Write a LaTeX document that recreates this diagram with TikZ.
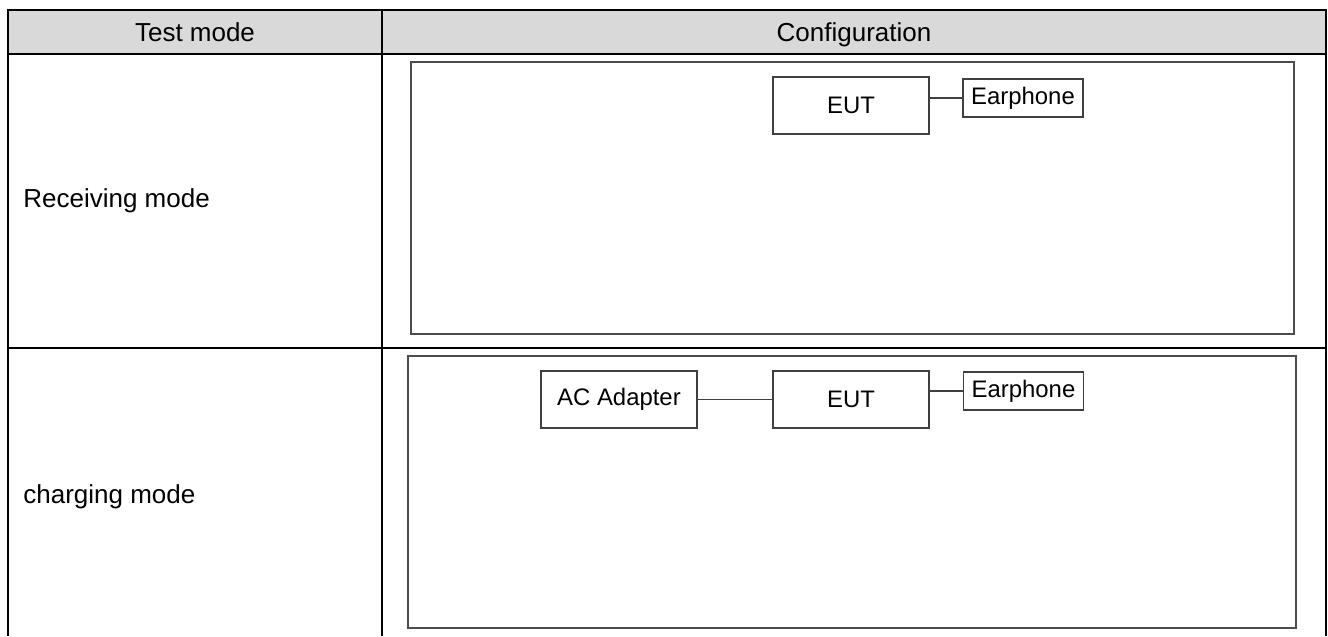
\documentclass[tikz,border=0pt]{standalone}
\usepackage{fontspec}
\setmainfont{Liberation Sans}
\usetikzlibrary{positioning}

\begin{document}
\begin{tikzpicture}[x=0.02cm, y=-0.02cm,
  rule/.style={line width=1.1pt},
  frame/.style={draw=black!70, line width=0.7pt},
  cell/.style={inner sep=0pt, font=\fontsize{14.8}{17}\selectfont},
  unit/.style={draw=black!75, line width=0.6pt, inner sep=0pt,
    minimum width=3.12cm, minimum height=1.14cm, font=\fontsize{13.6}{16}\selectfont},
  phone/.style={unit, minimum width=2.4cm, minimum height=0.76cm},
  wire/.style={draw=black!75, line width=0.6pt}]
\useasboundingbox (0,0) rectangle (1328,636);

% table grid with shaded header
\fill[black!15] (8,10) rectangle (1326,54);
\draw[rule] (8,636) -- (8,10) -- (1326,10) -- (1326,636);
\draw[rule] (8,54) -- (1326,54);
\draw[rule] (8,348) -- (1326,348);
\draw[rule] (382,10) -- (382,636);

\node[cell, anchor=base] (hmode) at (195,41) {Test mode};
\node[cell, anchor=base] (hconf) at (854,41) {Configuration};
\node[cell, anchor=base west] (recv) at (23,207) {Receiving mode};
\node[cell, anchor=base west] (chrg) at (23,503) {charging mode};

% receiving mode setup
\draw[frame] (411,62) rectangle (1294,334);
\node[unit] (eutA) at (851,105.5) {EUT};
\node[phone] (earA) at (1023,98) {Earphone};
\draw[wire] (earA.west) -- (earA.west -| eutA.east);

% charging mode setup
\draw[frame] (408,356) rectangle (1296,628);
\node[unit] (adapter) at (619,399.5) {AC Adapter};
\node[unit] (eutB) at (851,399.5) {EUT};
\node[phone] (earB) at (1023.5,391) {Earphone};
\draw[wire] (adapter) -- (eutB);
\draw[wire] (earB.west) -- (earB.west -| eutB.east);
\end{tikzpicture}
\end{document}
